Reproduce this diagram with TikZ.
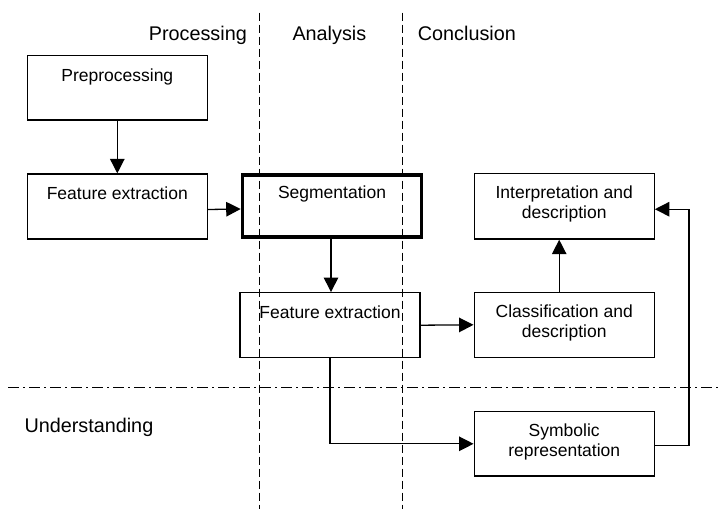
\documentclass[tikz,border=0pt]{standalone}
\usepackage{fontspec}
\setmainfont{Liberation Sans}
\usetikzlibrary{arrows.meta}

\tikzset{
  box/.style={draw, line width=1.3pt, rectangle, inner sep=0pt,
              minimum width=180pt, minimum height=65pt},
  boldbox/.style={box, line width=3.6pt, minimum width=179pt, minimum height=62pt},
  boxtext/.style={anchor=base, inner sep=0pt, align=center,
                  font=\fontsize{17.5}{20}\selectfont},
  head/.style={inner sep=0pt, font=\fontsize{19.8}{22}\selectfont},
  link/.style={line width=1.3pt, -{Triangle[length=14.5pt,width=14.5pt]}},
  lane/.style={line width=1.3pt, dash pattern=on 8pt off 4pt},
  tier/.style={line width=1.3pt, dash pattern=on 11pt off 4pt on 2pt off 4pt}
}

\begin{document}
\begin{tikzpicture}[x=1pt,y=-1pt]
  \useasboundingbox (0,0) rectangle (719,509);

  % column and row separators
  \draw[lane] (259.3,12.7) -- (259.3,509);
  \draw[lane] (402.7,12.7) -- (402.7,509);
  \draw[tier] (8.3,387.7) -- (719,387.7);

  % column and row headings
  \node[head, anchor=base east] (hproc) at (247,40) {Processing};
  \node[head, anchor=base west] (hana)  at (292.3,40) {Analysis};
  \node[head, anchor=base west] (hcon)  at (417.7,40) {Conclusion};
  \node[head, anchor=base west] (hund)  at (24.3,432.7) {Understanding};

  % boxes
  \node[box] (pre)    at (117.3,87.8)  [minimum height=64.3pt] {};
  \node[box] (fe1)    at (117.3,206.5) {};
  \node[boldbox] (seg) at (332,206) {};
  \node[box] (interp) at (564.2,206.2) [minimum height=65.7pt] {};
  \node[box] (fe2)    at (330,325.2) {};
  \node[box] (cls)    at (564.2,324.8) {};
  \node[box] (sym)    at (564.2,443.8) [minimum height=64.3pt] {};

  % box captions near the top edge (base = baseline of the last line)
  \node[boxtext] (tpre)    at ([yshift=-26pt]pre.north)    {Preprocessing};
  \node[boxtext] (tfe1)    at ([yshift=-26pt]fe1.north)    {Feature extraction};
  \node[boxtext] (tseg)    at ([yshift=-25pt]seg.north)    {Segmentation};
  \node[boxtext] (tinterp) at ([yshift=-46pt]interp.north) {Interpretation and\\description};
  \node[boxtext] (tfe2)    at ([yshift=-26pt]fe2.north)    {Feature extraction};
  \node[boxtext] (tcls)    at ([yshift=-46pt]cls.north)    {Classification and\\description};
  \node[boxtext] (tsym)    at ([yshift=-45pt]sym.north)    {Symbolic\\representation};

  % turning points of the routed connectors
  \coordinate (fe2down) at (fe2.south |- sym.west);
  \coordinate (symout)  at ([yshift=-2pt]sym.east);
  \coordinate (interpin) at ([yshift=-3pt]interp.east);
  \coordinate (riser)   at (689,0);

  % connectors
  \draw[link] (pre.south) -- (fe1.north);
  \draw[link] ([yshift=-3pt]fe1.east) -- ([yshift=-3pt]seg.west);
  \draw[link] ([xshift=-1pt]seg.south) -- ([xshift=1pt]fe2.north);
  \draw[link] (fe2.east) -- (cls.west);
  \draw[link] ([xshift=-5pt]cls.north) -- ([xshift=-5pt]interp.south);
  \draw[link] (fe2.south) -- (fe2down) -- (sym.west);
  \draw[link] (symout) -- (riser |- symout) -- (riser |- interpin) -- (interpin);
\end{tikzpicture}
\end{document}
